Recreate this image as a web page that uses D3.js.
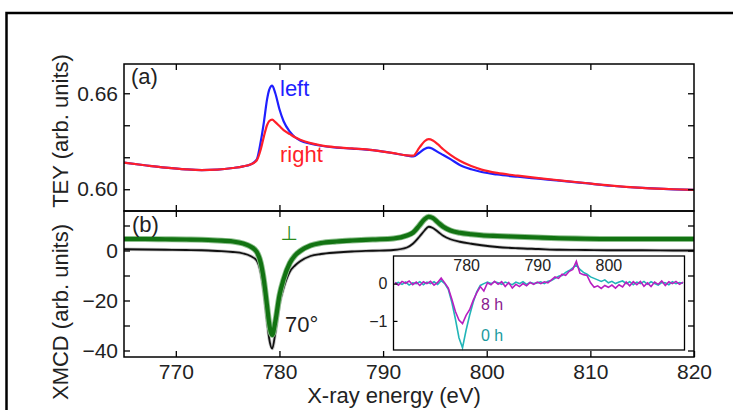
<!DOCTYPE html>
<html>
<head>
<meta charset="utf-8">
<script src="https://cdn.jsdelivr.net/npm/d3@7"></script>
<style>
  body { margin: 0; background: #fff; }
  svg { display: block; font-family: "Liberation Sans", Arial, sans-serif; }
</style>
</head>
<body>
<svg id="chart" width="733" height="410"></svg>
<script>
// energy grid for the main curves (eV)
const energy = [765, 767, 769, 771, 772.5, 774, 775.5, 776.5, 777.2, 777.8, 778.2, 778.5, 778.8, 779.0, 779.3, 779.6,
    780.0, 780.4, 781.0, 781.5, 782.0, 783.0, 784.0, 785.5, 787, 789, 791, 792.3, 792.9, 793.5, 794.0, 794.4,
    794.8, 795.3, 795.8, 796.5, 797.4, 798.5, 799.5, 801, 803, 805, 807, 809.5, 812, 815, 818, 820];

// (a) TEY, left / right circular polarisation
const teyLeft = [0.6166, 0.6150, 0.6135, 0.6124, 0.6120, 0.6123, 0.6133, 0.6143, 0.6155, 0.6185, 0.6300, 0.6420, 0.6560, 0.6620, 0.6648, 0.6600,
    0.6500, 0.6425, 0.6360, 0.6325, 0.6305, 0.6285, 0.6272, 0.6260, 0.6254, 0.6244, 0.6225, 0.6210, 0.6205, 0.6228, 0.6252, 0.6260,
    0.6252, 0.6232, 0.6214, 0.6188, 0.6152, 0.6125, 0.6108, 0.6092, 0.6078, 0.6066, 0.6054, 0.6038, 0.6022, 0.6008, 0.5999, 0.5996];
const teyRight = [0.6166, 0.6150, 0.6135, 0.6124, 0.6120, 0.6123, 0.6133, 0.6143, 0.6155, 0.6180, 0.6250, 0.6330, 0.6400, 0.6425, 0.6435, 0.6420,
    0.6395, 0.6370, 0.6345, 0.6325, 0.6310, 0.6288, 0.6274, 0.6262, 0.6255, 0.6245, 0.6226, 0.6212, 0.6210, 0.6260, 0.6300, 0.6313,
    0.6305, 0.6280, 0.6250, 0.6215, 0.6178, 0.6145, 0.6123, 0.6102, 0.6085, 0.6070, 0.6056, 0.6039, 0.6023, 0.6009, 0.6000, 0.5996];

// (b) XMCD at 70 deg and perpendicular
const xmcd70 = [0.5, 0.4, 0.3, 0.2, 0.1, -0.2, -0.6, -1.2, -2.2, -4.0, -9, -17, -28, -35, -39.2, -33,
    -21.5, -15, -8.5, -6, -4.3, -2.2, -1.4, -0.8, -0.4, -0.1, 0.2, 1.2, 2.8, 5.5, 8.0, 9.5,
    9.0, 7.5, 5.9, 4.5, 3.5, 2.7, 2.1, 1.4, 0.9, 0.6, 0.3, 0.2, 0.1, 0.1, 0.0, 0.0];
const xmcdPerp = [4.6, 4.6, 4.5, 4.4, 4.3, 4.0, 3.6, 2.8, 1.6, -0.5, -5, -12, -22, -29, -33.8, -28.5,
    -18, -11.5, -5, -2, -0.2, 2.0, 3.0, 3.6, 4.0, 4.4, 4.8, 6.0, 7.2, 10.0, 12.5, 13.5,
    13.0, 11.2, 9.5, 8.0, 7.1, 6.5, 6.1, 5.8, 5.5, 5.2, 4.9, 4.7, 4.6, 4.6, 4.6, 4.6];

// inset: XMCD after 0 h and 8 h
const insetEnergy = [770, 770.5, 771, 771.5, 772, 772.5, 773, 773.5, 774, 774.5, 775, 775.5, 776, 776.5, 777, 777.5,
    778, 778.5, 779, 779.5, 780, 780.5, 781, 781.5, 782, 782.5, 783, 783.5, 784, 784.5, 785, 785.5,
    786, 786.5, 787, 787.5, 788, 788.5, 789, 789.5, 790, 790.5, 791, 791.5, 792, 792.5, 793, 793.5,
    794, 794.5, 795, 795.5, 796, 796.5, 797, 797.5, 798, 798.5, 799, 799.5, 800, 800.5, 801, 801.5,
    802, 802.5, 803, 803.5, 804, 804.5, 805, 805.5, 806, 806.5, 807, 807.5, 808, 808.5, 809, 809.5,
    810, 810.5];
const inset8h = [0.03, -0.04, 0.06, 0.01, 0.07, -0.03, 0.04, -0.05, 0.05, 0.0, 0.06, -0.04, 0.03, 0.15, 0.02, -0.12,
    -0.42, -0.75, -0.98, -1.07, -0.85, -0.7, -0.45, -0.25, -0.08, -0.2, 0.02, -0.03, 0.06, -0.02, 0.05, -0.08,
    0.03, -0.12, -0.02, -0.08, 0.0, -0.06, 0.03, -0.02, 0.04, 0.0, 0.05, 0.02, 0.1, 0.18, 0.14, 0.25,
    0.22, 0.33, 0.38, 0.6, 0.28, 0.24, 0.22, 0.02, -0.1, -0.06, -0.13, -0.05, -0.1, -0.04, -0.12, -0.03,
    -0.09, 0.04, -0.06, 0.05, -0.03, 0.06, -0.07, 0.02, -0.08, 0.04, -0.02, 0.07, -0.05, 0.05, 0.0, 0.06,
    -0.02, 0.04];
const inset0h = [0.0, 0.03, -0.02, 0.04, -0.04, 0.02, 0.0, 0.05, -0.03, 0.04, 0.0, 0.05, -0.02, 0.08, 0.0, -0.15,
    -0.5, -0.95, -1.45, -1.72, -1.25, -0.85, -0.5, -0.22, -0.05, 0.0, 0.04, 0.0, 0.05, 0.02, -0.02, 0.04,
    0.0, -0.03, 0.04, 0.0, 0.05, -0.02, 0.03, 0.0, 0.02, 0.05, 0.0, 0.06, 0.08, 0.14, 0.2, 0.22,
    0.3, 0.35, 0.42, 0.5, 0.38, 0.3, 0.25, 0.18, 0.14, 0.1, 0.06, 0.1, 0.02, 0.06, 0.0, 0.04,
    0.07, 0.0, 0.05, -0.03, 0.04, 0.0, 0.06, -0.02, 0.05, 0.0, -0.04, 0.03, 0.02, -0.03, 0.05, 0.0,
    0.03, 0.01];

const xTicks = [770, 780, 790, 800, 810, 820];
const teyTicks = [0.60, 0.62, 0.64, 0.66];
const teyLabels = [0.60, 0.66];
const xmcdTicks = [10, 0, -10, -20, -30, -40];
const xmcdLabels = [0, -20, -40];
const insetXTicks = [780, 790, 800];
const insetYTicks = [0, -1];

const svg = d3.select("#chart");

// layout of the panels
const left = 124, right = 694;
const topA = 64, bottomA = 211, bottomB = 357;
const inset = { x0: 393.5, x1: 684.5, y0: 256, y1: 350 };

const x = d3.scaleLinear().domain([765, 820]).range([left, right]);
const yA = d3.scaleLinear().domain([0.5864, 0.6783]).range([bottomA, topA]);
const yB = d3.scaleLinear().domain([-42.6, 15.8]).range([bottomB, bottomA]);
const xi = d3.scaleLinear().domain([769.8, 810.7]).range([inset.x0, inset.x1]);
const yi = d3.scaleLinear().domain([-1.78, 0.74]).range([inset.y1, inset.y0]);

// outer figure frame (cropped box)
svg.append("path")
    .attr("d", "M6.5,410 V13 H733")
    .attr("fill", "none")
    .attr("stroke", "#000")
    .attr("stroke-width", 2.5);

// helper: draw inward ticks on all four sides of a panel
function frameAxes(yScale, yTicks, yLabels, yFmt, showXLabels) {
    const [yb, yt] = yScale.range();
    const g = svg.append("g");

    g.append("g").attr("transform", `translate(${left},0)`)
        .call(d3.axisLeft(yScale).tickValues(yTicks).tickSizeInner(-6).tickSizeOuter(0).tickPadding(6)
            .tickFormat(d => yLabels.some(v => Math.abs(v - d) < 1e-9) ? yFmt(d) : ""));
    g.append("g").attr("transform", `translate(${right},0)`)
        .call(d3.axisRight(yScale).tickValues(yTicks).tickSizeInner(-6).tickSizeOuter(0).tickFormat(""));
    g.append("g").attr("transform", `translate(0,${yt})`)
        .call(d3.axisTop(x).tickValues(xTicks.slice(0, -1)).tickSizeInner(-6).tickSizeOuter(0).tickFormat(""));
    g.append("g").attr("transform", `translate(0,${yb})`)
        .call(d3.axisBottom(x).tickValues(showXLabels ? xTicks : xTicks.slice(0, -1)).tickSizeInner(-6).tickSizeOuter(0).tickPadding(7)
            .tickFormat(showXLabels ? d3.format("d") : ""));

    g.selectAll(".domain").remove();
    g.selectAll(".tick line").attr("stroke", "#000").attr("stroke-width", 1.3);
    g.selectAll(".tick text").attr("fill", "#222").style("font-size", "21px");

    g.append("rect")
        .attr("x", left).attr("y", yt)
        .attr("width", right - left).attr("height", yb - yt)
        .attr("fill", "none").attr("stroke", "#000").attr("stroke-width", 1.5);
    return g;
}

// ---- panel (a) ----
const lineA = d3.line().x((d, i) => x(energy[i])).y(d => yA(d)).curve(d3.curveMonotoneX);
svg.append("path").datum(teyLeft).attr("d", lineA)
    .attr("fill", "none").attr("stroke", "#1f1fff").attr("stroke-width", 2.2);
svg.append("path").datum(teyRight).attr("d", lineA)
    .attr("fill", "none").attr("stroke", "#ff1f2a").attr("stroke-width", 2.2);

frameAxes(yA, teyTicks, teyLabels, d3.format(".2f"), false);

// ---- panel (b) ----
const lineB = d3.line().x((d, i) => x(energy[i])).y(d => yB(d)).curve(d3.curveMonotoneX);
svg.append("path").datum(xmcd70).attr("d", lineB)
    .attr("fill", "none").attr("stroke", "#c8c8c8").attr("stroke-width", 3.5);
svg.append("path").datum(xmcd70).attr("d", lineB)
    .attr("fill", "none").attr("stroke", "#111").attr("stroke-width", 1.8);
svg.append("path").datum(xmcdPerp).attr("d", lineB)
    .attr("fill", "none").attr("stroke", "#8dbf8d").attr("stroke-width", 6);
svg.append("path").datum(xmcdPerp).attr("d", lineB)
    .attr("fill", "none").attr("stroke", "#127312").attr("stroke-width", 4.2);

frameAxes(yB, xmcdTicks, xmcdLabels, d3.format("d"), true);

// ---- inset ----
svg.append("rect")
    .attr("x", inset.x0).attr("y", inset.y0)
    .attr("width", inset.x1 - inset.x0).attr("height", inset.y1 - inset.y0)
    .attr("fill", "#fff");

const lineI = d3.line().x((d, i) => xi(insetEnergy[i])).y(d => yi(d));
svg.append("path").datum(inset0h).attr("d", lineI)
    .attr("fill", "none").attr("stroke", "#22b5b8").attr("stroke-width", 1.6);
svg.append("path").datum(inset8h).attr("d", lineI)
    .attr("fill", "none").attr("stroke", "#b81fc0").attr("stroke-width", 1.6);

const insetAxis = svg.append("g");
insetAxis.append("g").attr("transform", `translate(${inset.x0},0)`)
    .call(d3.axisLeft(yi).tickValues(insetYTicks).tickSizeInner(-4).tickSizeOuter(0).tickPadding(6).tickFormat(d3.format("d")));
insetAxis.append("g").attr("transform", `translate(0,${inset.y0})`)
    .call(d3.axisBottom(xi).tickValues(insetXTicks).tickSize(0).tickPadding(4).tickFormat(d3.format("d")));
insetAxis.selectAll(".domain").remove();
insetAxis.selectAll(".tick line").attr("stroke", "#000").attr("stroke-width", 1.2);
insetAxis.selectAll(".tick text").attr("fill", "#222").style("font-size", "16px");

svg.append("rect")
    .attr("x", inset.x0).attr("y", inset.y0)
    .attr("width", inset.x1 - inset.x0).attr("height", inset.y1 - inset.y0)
    .attr("fill", "none").attr("stroke", "#000").attr("stroke-width", 1.3);

// ---- text labels ----
function label(txt, px, py, color, size, anchor) {
    svg.append("text")
        .attr("x", px).attr("y", py)
        .attr("fill", color)
        .attr("text-anchor", anchor || "start")
        .style("font-size", size + "px")
        .text(txt);
}

label("(a)", 131, 84, "#222", 22);
label("left", 280, 96, "#1f1fff", 22);
label("right", 280, 162, "#ff1f2a", 22);
label("(b)", 132, 232, "#222", 22);
svg.append("text")
    .attr("x", 289).attr("y", 240)
    .attr("text-anchor", "middle")
    .attr("fill", "#2a8a1a")
    .style("font-family", "'DejaVu Sans', sans-serif")
    .style("font-size", "20px")
    .text("\u22A5");
label("70°", 285, 332, "#222", 22);
label("8 h", 481, 310, "#8a1a8f", 16);
label("0 h", 481, 341, "#1a9a9e", 16);

// axis titles
svg.append("text")
    .attr("x", (left + right) / 2 - 15).attr("y", 403)
    .attr("text-anchor", "middle")
    .attr("fill", "#222")
    .style("font-size", "22px")
    .text("X-ray energy (eV)");

svg.append("text")
    .attr("transform", "translate(68,131) rotate(-90)")
    .attr("text-anchor", "middle")
    .attr("fill", "#222")
    .style("font-size", "22px")
    .text("TEY (arb. units)");

svg.append("text")
    .attr("transform", "translate(68,312) rotate(-90)")
    .attr("text-anchor", "middle")
    .attr("fill", "#222")
    .style("font-size", "22px")
    .text("XMCD (arb. units)");
</script>
</body>
</html>
